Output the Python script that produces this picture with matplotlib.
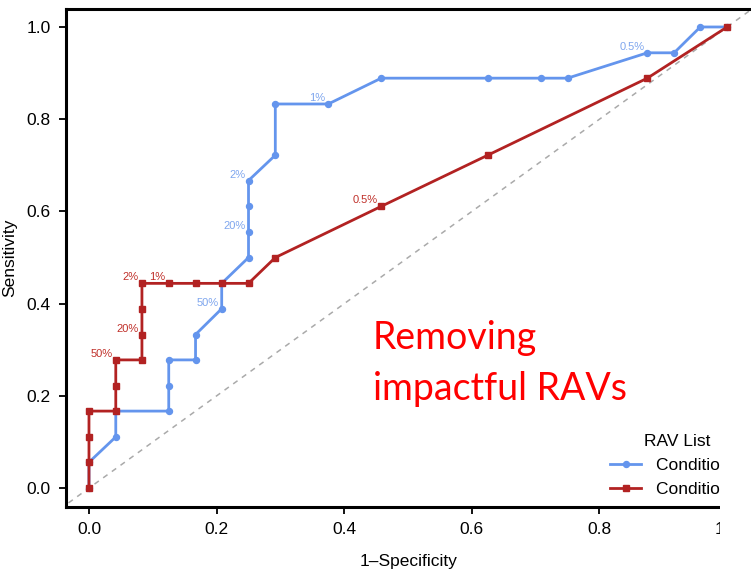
import matplotlib
matplotlib.use("Agg")
import matplotlib.pyplot as plt
from matplotlib.patches import Rectangle

# ---- data ----
blue_fpr = [0.0, 0.0, 0.042, 0.042, 0.125, 0.125, 0.125, 0.167, 0.167, 0.208, 0.208,
            0.25, 0.25, 0.25, 0.25, 0.292, 0.292, 0.375, 0.458, 0.625, 0.708, 0.75,
            0.875, 0.917, 0.958, 1.0]
blue_tpr = [0.0, 0.056, 0.111, 0.167, 0.167, 0.222, 0.278, 0.278, 0.333, 0.389, 0.444,
            0.5, 0.556, 0.611, 0.667, 0.722, 0.833, 0.833, 0.889, 0.889, 0.889, 0.889,
            0.944, 0.944, 1.0, 1.0]
red_fpr = [0.0, 0.0, 0.0, 0.0, 0.042, 0.042, 0.042, 0.083, 0.083, 0.083, 0.083,
           0.125, 0.167, 0.208, 0.25, 0.292, 0.458, 0.625, 0.875, 1.0]
red_tpr = [0.0, 0.056, 0.111, 0.167, 0.167, 0.222, 0.278, 0.278, 0.333, 0.389, 0.444,
           0.444, 0.444, 0.444, 0.444, 0.5, 0.611, 0.722, 0.889, 1.0]

blue_lab_x = [0.875, 0.375, 0.25, 0.25, 0.208]
blue_lab_y = [0.944, 0.833, 0.667, 0.556, 0.389]
blue_lab_t = ["0.5%", "1%", "2%", "20%", "50%"]
red_lab_x = [0.458, 0.125, 0.083, 0.083, 0.042]
red_lab_y = [0.611, 0.444, 0.444, 0.333, 0.278]
red_lab_t = ["0.5%", "1%", "2%", "20%", "50%"]

series_names = ["Condition 1", "Condition 2"]
ticks = [0.0, 0.2, 0.4, 0.6, 0.8, 1.0]
x_ticks_labels = ["0.0", "0.2", "0.4", "0.6", "0.8", "1.0"]
y_ticks_labels = ["0.0", "0.2", "0.4", "0.6", "0.8", "1.0"]

BLUE = "#6495ED"
RED = "#B22222"
BLUE_T = "#7FA6EE"
RED_T = "#C0302A"

plt.rcParams['font.family'] = ['Liberation Sans', 'DejaVu Sans']

W, H = 751, 574
fig = plt.figure(figsize=(W / 100, H / 100), dpi=100)
L, R, T, B = 66, 752, 9, 507
ax = fig.add_axes([L / W, 1 - B / H, (R - L) / W, (B - T) / H])
ax.set_xlim(-0.036, 1.039)
ax.set_ylim(-0.041, 1.039)

# diagonal reference
ax.plot([-0.1, 1.2], [-0.1, 1.2], ls=(0, (3.5, 3.5)), color="#AAAAAA", lw=1.1, zorder=1)

ax.plot(blue_fpr, blue_tpr, color=BLUE, lw=2.0, marker="o", ms=4.3, zorder=3,
        label=series_names[0])
ax.plot(red_fpr, red_tpr, color=RED, lw=2.0, marker="s", ms=4.8, zorder=4,
        label=series_names[1])

for x, y, t in zip(blue_lab_x, blue_lab_y, blue_lab_t):
    ax.annotate(t, (x, y), xytext=(-2.2, 4.3), textcoords="offset points",
                ha="right", va="center", fontsize=8, color=BLUE_T, zorder=5)
for x, y, t in zip(red_lab_x, red_lab_y, red_lab_t):
    ax.annotate(t, (x, y), xytext=(-2.2, 4.3), textcoords="offset points",
                ha="right", va="center", fontsize=8, color=RED_T, zorder=5)

for s in ax.spines.values():
    s.set_linewidth(2.2)
ax.set_xticks(ticks)
ax.set_xticklabels(x_ticks_labels)
ax.set_yticks(ticks)
ax.set_yticklabels(y_ticks_labels)
ax.tick_params(direction="out", length=5, width=1.3, labelsize=12.5, pad=6)
ax.set_xlabel("1\u2013Specificity", fontsize=12.5, labelpad=12)
ax.set_ylabel("Sensitivity", fontsize=12.5, labelpad=7)

# annotation text
fig.text(373 / W, 1 - 349 / H, "Removing", fontsize=27, color="#FF0000",
         family=["Lato", "DejaVu Sans"], ha="left", va="baseline")
fig.text(373 / W, 1 - 400 / H, "impactful RAVs", fontsize=27, color="#FF0000",
         family=["Lato", "DejaVu Sans"], ha="left", va="baseline")

# legend
leg = ax.legend(title="RAV List", loc="upper left",
                bbox_to_anchor=(605 / W, 1 - 429 / H), bbox_transform=fig.transFigure,
                frameon=False, fontsize=12.5, title_fontsize=12.5,
                handlelength=1.8, handletextpad=0.85, labelspacing=0.5,
                borderaxespad=0, borderpad=0.3)

# white mask for cropped right-bottom region
fig.patches.append(Rectangle((720 / W, 0), (W - 720) / W, 1 - 428 / H,
                             transform=fig.transFigure, facecolor="white",
                             edgecolor="none", zorder=10))

fig.savefig("out.png", dpi=100)
